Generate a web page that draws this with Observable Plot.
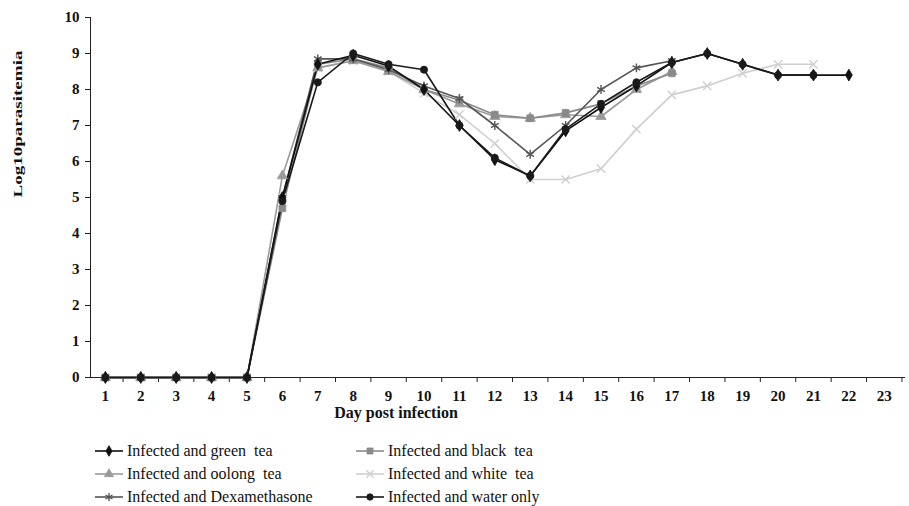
<!DOCTYPE html>
<html><head><meta charset="utf-8">
<script src="https://cdn.jsdelivr.net/npm/d3@7"></script>
<script src="https://cdn.jsdelivr.net/npm/@observablehq/plot@0.6"></script>
<style>
body{margin:0;background:#fff;font-family:'Liberation Serif',Tinos,'Times New Roman','DejaVu Serif',serif;}
#chart svg{display:block;}
#legend{position:relative;height:81px;width:909px;overflow:hidden;}
.item{position:absolute;display:flex;align-items:center;font-size:16px;color:#111;white-space:pre;line-height:16px;font-family:'Liberation Serif',Tinos,'Times New Roman','DejaVu Serif',serif;}
.item svg{margin-right:4px;}
</style></head><body><div id="chart"></div><div id="legend"></div>
<script>
const days = d3.range(1, 24);
const yTicks = d3.range(0, 11);
const seriesNames = ["Infected and green  tea", "Infected and black  tea", "Infected and oolong  tea", "Infected and white  tea", "Infected and Dexamethasone", "Infected and water only"];
const greenTea   = [0,0,0,0,0, 5.0, 8.7, 8.95, 8.65, 8.0, 7.0, 6.05, 5.6, 6.85, 7.5, 8.1, 8.75, 9.0, 8.7, 8.4, 8.4, 8.4];
const blackTea   = [0,0,0,0,0, 4.7, 8.7, 8.85, 8.6, 8.0, 7.7, 7.3, 7.2, 7.35, 7.6, 8.1, 8.45];
const oolongTea  = [0,0,0,0,0, 5.6, 8.6, 8.8, 8.5, 8.0, 7.6, 7.25, 7.2, 7.3, 7.25, 8.0, 8.5];
const whiteTea   = [0,0,0,0,0, 5.0, 8.6, 8.8, 8.5, 7.9, 7.3, 6.5, 5.5, 5.5, 5.8, 6.9, 7.85, 8.1, 8.45, 8.7, 8.7];
const dexameth   = [0,0,0,0,0, 5.0, 8.85, 8.85, 8.55, 8.1, 7.75, 7.0, 6.2, 7.0, 8.0, 8.6, 8.8];
const waterOnly  = [0,0,0,0,0, 4.9, 8.2, 9.0, 8.7, 8.55, 7.0, 6.1, 5.6, 6.9, 7.6, 8.2, 8.75, 9.0, 8.7, 8.4, 8.4];

const seriesValues = [greenTea, blackTea, oolongTea, whiteTea, dexameth, waterOnly];
const styles = [
  {color: "#111", symbol: "diamond", filled: true, r: 3.6},
  {color: "#8a8a8a", symbol: "square", filled: true, r: 3.8},
  {color: "#9a9a9a", symbol: "triangle", filled: true, r: 3.8},
  {color: "#cfcfcf", symbol: "times", filled: false, r: 3.8},
  {color: "#555", symbol: "asterisk", filled: false, r: 4.2},
  {color: "#1a1a1a", symbol: "circle", filled: true, r: 3.6}
];
const drawOrder = [3, 2, 1, 4, 0, 5];

const tables = seriesValues.map((vals, s) => vals.map((v, i) => ({day: days[i], value: v, series: seriesNames[s]})));

const font = "'Liberation Serif', Tinos, 'Times New Roman', 'DejaVu Serif', serif";
const x0 = 0.58, x1 = 23.6;
const boundaries = d3.range(x0 + 0.92, 24, 1);

const marks = [
  Plot.ruleY([0], {stroke: "#222", strokeWidth: 1}),
  Plot.ruleX([x0], {y1: 0, y2: 10, stroke: "#222", strokeWidth: 1}),
  Plot.axisY({ticks: yTicks, tickSize: 5, tickPadding: 6, fontSize: 15, fontWeight: "bold", fontFamily: font, stroke: "#222", fill: "#111", label: null}),
  Plot.axisX({ticks: boundaries, tickSize: 5, tickFormat: () => "", stroke: "#222", label: null}),
  Plot.axisX({ticks: days, tickSize: 0, tickPadding: 13, fontSize: 15, fontWeight: "bold", fontFamily: font, fill: "#111", label: null}),
  Plot.text(["Day post infection"], {frameAnchor: "bottom", dx: -102, dy: 40, fontSize: 16, fontWeight: "bold", fontFamily: font, fill: "#111"}),
  Plot.text(["Log10parasitemia"], {frameAnchor: "left", dx: -72, rotate: -90, fontSize: 12, fontWeight: "bold", fontFamily: font, fill: "#111", className: "ylab"})
];
for (const s of drawOrder) {
  const st = styles[s];
  marks.push(Plot.line(tables[s], {x: "day", y: "value", stroke: st.color, strokeWidth: 1.6}));
}
for (const s of drawOrder) {
  const st = styles[s];
  marks.push(Plot.dot(tables[s], {x: "day", y: "value", symbol: st.symbol, r: st.r,
    fill: st.filled ? st.color : "none", stroke: st.color, strokeWidth: st.filled ? 0.8 : 1.4}));
}

const chart = Plot.plot({
  width: 909, height: 425,
  marginLeft: 90, marginRight: 4, marginTop: 17, marginBottom: 48,
  style: {background: "#fff", fontFamily: font},
  x: {type: "linear", domain: [x0, x1], axis: null},
  y: {domain: [0, 10], axis: null},
  marks
});
document.getElementById("chart").appendChild(chart);
const yl = chart.querySelector(".ylab text");
if (yl) { yl.setAttribute("textLength", "147"); yl.setAttribute("lengthAdjust", "spacingAndGlyphs"); }

// legend
const legend = d3.select("#legend");
const symMap = {diamond: d3.symbolDiamond, square: d3.symbolSquare, triangle: d3.symbolTriangle, times: d3.symbolTimes, asterisk: d3.symbolAsterisk, circle: d3.symbolCircle};
const positions = [[95, 0], [356, 0], [95, 1], [356, 1], [95, 2], [356, 2]];
seriesNames.forEach((name, s) => {
  const st = styles[s];
  const [lx, row] = positions[s];
  const item = legend.append("div").attr("class", "item")
    .style("left", lx + "px").style("top", (18 + row * 23) + "px");
  const sv = item.append("svg").attr("width", 28).attr("height", 14);
  sv.append("line").attr("x1", 0).attr("x2", 28).attr("y1", 7).attr("y2", 7).attr("stroke", st.color).attr("stroke-width", 1.6);
  sv.append("path").attr("transform", "translate(14,7)")
    .attr("d", d3.symbol(symMap[st.symbol], Math.PI * st.r * st.r * 0.8)())
    .attr("fill", st.filled ? st.color : "none").attr("stroke", st.color).attr("stroke-width", st.filled ? 0.8 : 1.4);
  item.append("span").text(name);
});
</script></body></html>
